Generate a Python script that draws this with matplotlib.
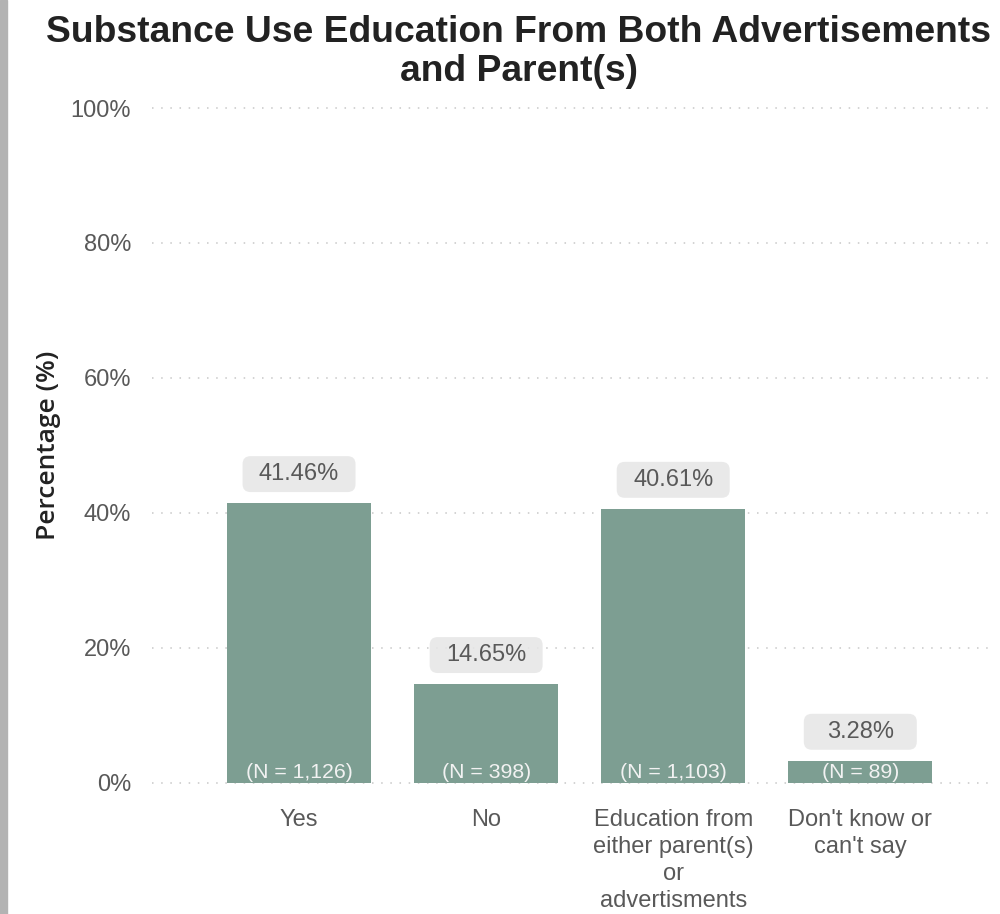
import matplotlib
matplotlib.use("Agg")
import matplotlib.pyplot as plt
from matplotlib.patches import Rectangle, FancyBboxPatch

plt.rcParams['font.family'] = ['Liberation Sans', 'DejaVu Sans']

categories = ["Yes", "No", "Education from\neither parent(s)\nor\nadvertisments", "Don't know or\ncan't say"]
percentages = [41.46, 14.65, 40.61, 3.28]
counts = ["1,126", "398", "1,103", "89"]
y_ticks = [0, 20, 40, 60, 80, 100]

bar_color = "#7d9e92"
text_gray = "#595959"

fig = plt.figure(figsize=(10, 9.14), dpi=100)
fig.patches.append(Rectangle((0, 0), 0.007, 1, transform=fig.transFigure,
                             color="#b3b3b3", zorder=0))

ax = fig.add_axes([0.152, 0.1286, 0.843, 0.768])
x = list(range(len(categories)))
ax.bar(x, percentages, width=0.77, color=bar_color, zorder=2)

ax.set_xlim(-0.786, 3.72)
ax.set_ylim(-2, 102)
for t in y_ticks:
    ax.axhline(t, color="#c8c8c8", lw=1.1, linestyle=(0, (1, 5)), zorder=1)

# value badges: rounded boxes above each bar
box_w, box_h, gap = 0.604, 5.33, 4.3
for xi, p, n in zip(x, percentages, counts):
    cy = p + gap
    badge = FancyBboxPatch((xi - box_w / 2, cy - box_h / 2), box_w, box_h,
                           boxstyle="round,pad=0,rounding_size=0.043",
                           mutation_aspect=27.5, fc="#e6e6e6", ec="none",
                           alpha=0.85, zorder=3)
    ax.add_patch(badge)
    ax.text(xi, cy, f"{p:.2f}%", ha="center", va="center",
            fontsize=17, color=text_gray, zorder=4)
    ax.text(xi, 1.6, f"(N = {n})", ha="center", va="center",
            fontsize=15.3, color="#f2f2f2", zorder=3)

ax.set_yticks(y_ticks)
ax.set_yticklabels([f"{t}%" for t in y_ticks], fontsize=17, color=text_gray)
ax.set_xticks(x)
ax.set_xticklabels(categories, fontsize=17, color=text_gray, linespacing=1.3)
ax.tick_params(axis="both", length=0)
ax.tick_params(axis="y", pad=15)
ax.tick_params(axis="x", pad=9)
for s in ax.spines.values():
    s.set_visible(False)

ax.set_ylabel("Percentage (%)", fontsize=19, color="#222222",
              family=["Open Sans", "DejaVu Sans"], fontweight="semibold",
              labelpad=7)

fig.text(0.519, 0.9435, "Substance Use Education From Both Advertisements\nand Parent(s)",
         ha="center", va="center", fontsize=26.8, fontweight="bold",
         color="#222222", linespacing=1.14)

fig.savefig("out.png", dpi=100, facecolor="white")
